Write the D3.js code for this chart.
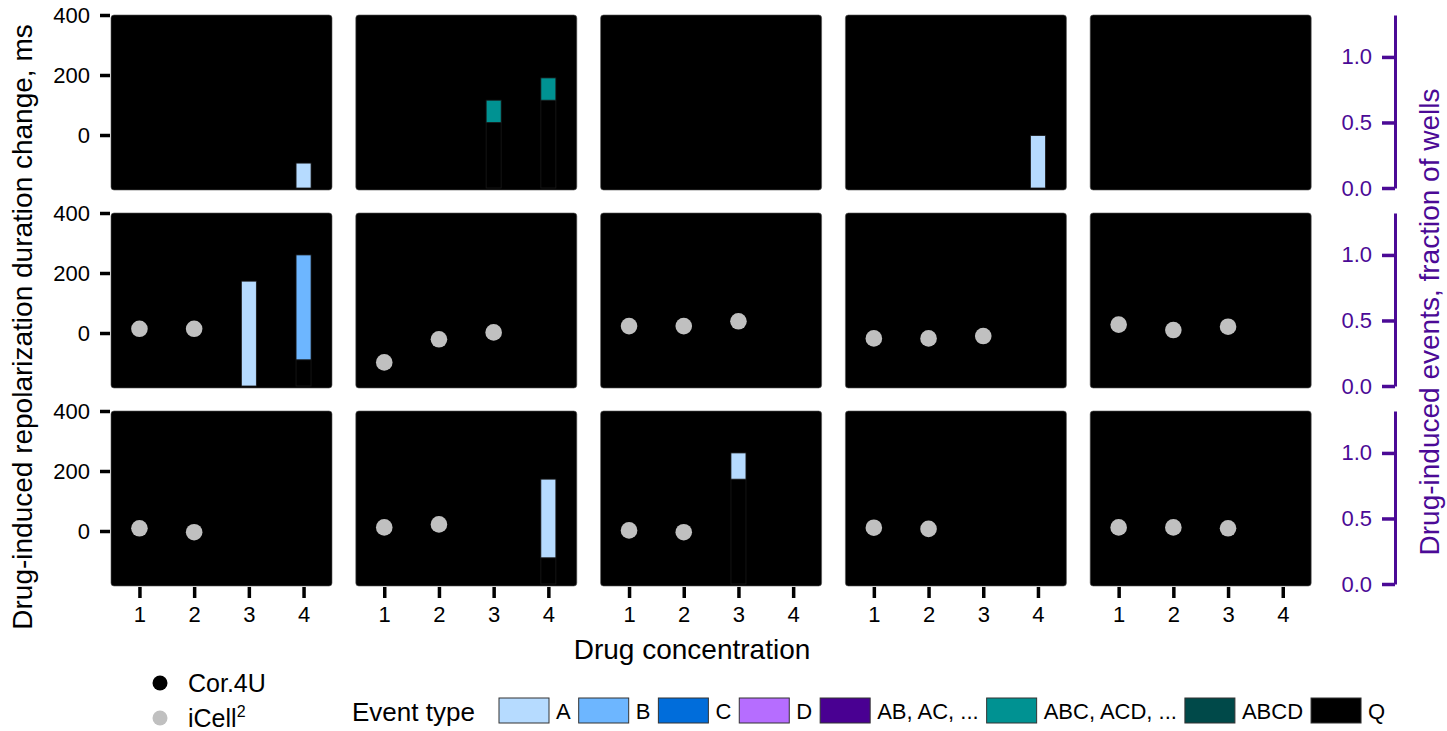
<!DOCTYPE html>
<html>
<head>
<meta charset="utf-8">
<script src="https://cdn.jsdelivr.net/npm/d3@7"></script>
<style>
  body { margin: 0; background: #fff; }
  svg { font-family: "Liberation Sans", Arial, sans-serif; }
</style>
</head>
<body>
<div id="chart"></div>
<script>
// Data
const concentrations = [1, 2, 3, 4];
const leftTicks = [0, 200, 400];
const rightTicks = [0, 0.5, 1.0];

// iCell2 repolarization duration change (ms), 15 panels row by row, one value per concentration
const icellDelta = [
    [null, null, null, null], [null, null, null, null], [null, null, null, null], [null, null, null, null], [null, null, null, null],
    [14, 14, null, null], [-98, -21, 2, null], [23, 23, 39, null], [-18, -18, -10, null], [28, 10, 21, null],
    [9, -4, null, null], [12, 22, null, null], [2, -4, null, null], [11, 7, null, null], [12, 12, 9, null]
];

// Event legend
const eventKeys = ["A", "B", "C", "D", "AB", "ABC", "ABCD", "Q"];
const eventLabels = ["A", "B", "C", "D", "AB, AC, ...", "ABC, ACD, ...", "ABCD", "Q"];
const eventColors = ["#b6dbff", "#6db6ff", "#006ddb", "#b66dff", "#490092", "#009292", "#004949", "#000000"];
const stackOrder = ["Q", "A", "B", "C", "D", "AB", "ABC", "ABCD"];

// Event bars: panel index, concentration and fraction of wells per event type
const eventPanel = [0, 1, 1, 3, 5, 5, 11, 12];
const eventConc = [4, 3, 4, 4, 3, 4, 4, 3];
const eventQ = [0, 0.5, 0.67, 0, 0, 0.2, 0.2, 0.8];
const eventA = [0.19, 0, 0, 0.4, 0.8, 0, 0.6, 0.2];
const eventB = [0, 0, 0, 0, 0, 0.8, 0, 0];
const eventABC = [0, 0.17, 0.17, 0, 0, 0, 0, 0];

const cellLines = ["Cor.4U", "iCell"];
const cellColors = ["#000000", "#c0c0c0"];

const W = 1447, H = 731;
const nCols = 5, nRows = 3;
const panelW = 221, panelH = 175;
const colStep = 244.8, rowStep = 198;
const left0 = 111, top0 = 15;
const rightAxisX = 1395;
const purple = "#4b0a96";

const svg = d3.select("#chart").append("svg")
    .attr("width", W)
    .attr("height", H);

const x = d3.scaleLinear().domain([0.48, 4.52]).range([0, panelW]);
const y = d3.scaleLinear().domain([-183.3, 400]).range([panelH, 0]);
const yFrac = d3.scaleLinear().domain([0, 1.32]).range([173, 0]);

// build bar rows
const bars = eventPanel.map((p, i) => ({
    panel: p, conc: eventConc[i],
    Q: eventQ[i], A: eventA[i], B: eventB[i], C: 0, D: 0, AB: 0, ABC: eventABC[i], ABCD: 0
}));
const stacked = d3.stack().keys(stackOrder)(bars);
const colorOf = d3.scaleOrdinal().domain(eventKeys).range(eventColors);

for (let r = 0; r < nRows; r++) {
    for (let c = 0; c < nCols; c++) {
        const idx = r * nCols + c;
        const g = svg.append("g")
            .attr("transform", `translate(${left0 + c * colStep},${top0 + r * rowStep})`);

        g.append("rect")
            .attr("width", panelW)
            .attr("height", panelH)
            .attr("rx", 3)
            .attr("fill", "#000")
            .attr("stroke", "#555")
            .attr("stroke-width", 0.6);

        // stacked event bars
        stacked.forEach(layer => {
            layer.forEach((seg, j) => {
                if (bars[j].panel !== idx || seg[1] - seg[0] <= 0) return;
                g.append("rect")
                    .attr("x", x(bars[j].conc) - 7.5)
                    .attr("width", 15)
                    .attr("y", yFrac(seg[1]))
                    .attr("height", yFrac(seg[0]) - yFrac(seg[1]))
                    .attr("fill", colorOf(layer.key))
                    .attr("stroke", "#181818")
                    .attr("stroke-width", 0.8);
            });
        });

        // iCell2 points
        g.selectAll("circle")
            .data(concentrations.map((cc, k) => ({ c: cc, v: icellDelta[idx][k] })).filter(d => d.v !== null))
            .enter().append("circle")
            .attr("cx", d => x(d.c))
            .attr("cy", d => y(d.v))
            .attr("r", 8.3)
            .attr("fill", cellColors[1]);

        // left axis on first column
        if (c === 0) {
            const ax = g.append("g")
                .attr("transform", "translate(-1,0)")
                .call(d3.axisLeft(y).tickValues(leftTicks).tickSize(10).tickPadding(10));
            ax.select(".domain").remove();
            ax.selectAll("line").attr("stroke-width", 3.5);
            ax.selectAll("text").style("font-size", "22px").attr("fill", "#000");
        }

        // bottom axis on last row
        if (r === nRows - 1) {
            const bx = g.append("g")
                .attr("transform", `translate(0,${panelH + 1})`)
                .call(d3.axisBottom(x).tickValues(concentrations).tickFormat(d3.format("d")).tickSize(11).tickPadding(8));
            bx.select(".domain").remove();
            bx.selectAll("line").attr("stroke-width", 3.5);
            bx.selectAll("text").style("font-size", "22px").attr("fill", "#000");
        }
    }

    // right fraction axis
    const ra = svg.append("g")
        .attr("transform", `translate(${rightAxisX},${top0 + r * rowStep})`)
        .call(d3.axisLeft(yFrac).tickValues(rightTicks).tickFormat(d3.format(".1f")).tickSize(13).tickSizeOuter(0).tickPadding(10));
    ra.select(".domain").attr("stroke", purple).attr("stroke-width", 3);
    ra.selectAll("line").attr("stroke", purple).attr("stroke-width", 3.5);
    ra.selectAll("text").style("font-size", "22px").attr("fill", purple);
}

// axis titles
svg.append("text")
    .attr("transform", "translate(32,327) rotate(-90)")
    .attr("text-anchor", "middle")
    .style("font-size", "28px")
    .text("Drug-induced repolarization duration change, ms");

svg.append("text")
    .attr("transform", "translate(1439,322) rotate(-90)")
    .attr("text-anchor", "middle")
    .style("font-size", "28px")
    .attr("fill", purple)
    .text("Drug-induced events, fraction of wells");

svg.append("text")
    .attr("x", 692)
    .attr("y", 659)
    .attr("text-anchor", "middle")
    .style("font-size", "28px")
    .text("Drug concentration");

// cell line legend
cellLines.forEach((name, i) => {
    const ly = 683 + i * 35;
    svg.append("circle").attr("cx", 160).attr("cy", ly).attr("r", 7.5).attr("fill", cellColors[i]);
    const t = svg.append("text")
        .attr("x", 188)
        .attr("y", ly + 9)
        .style("font-size", "25px")
        .text(name);
    if (i === 1) {
        t.append("tspan").attr("dy", -10).style("font-size", "16px").text("2");
    }
});

// event type legend
svg.append("text")
    .attr("x", 352)
    .attr("y", 721)
    .style("font-size", "26px")
    .text("Event type");

let lx = 499;
eventLabels.forEach((lab, i) => {
    svg.append("rect")
        .attr("x", lx).attr("y", 698)
        .attr("width", 50).attr("height", 25)
        .attr("fill", eventColors[i])
        .attr("stroke", "#333")
        .attr("stroke-width", 1);
    const t = svg.append("text")
        .attr("x", lx + 57)
        .attr("y", 719)
        .style("font-size", "22px")
        .text(lab);
    lx += 57 + t.node().getComputedTextLength() + 8;
});
</script>
</body>
</html>
